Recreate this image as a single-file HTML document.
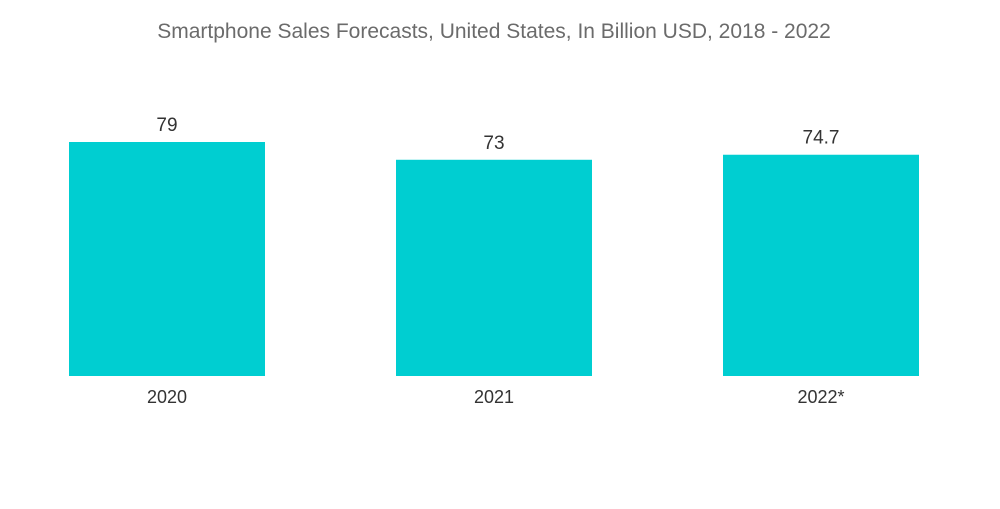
<!DOCTYPE html>
<html><head><meta charset="utf-8"><style>
html,body{margin:0;padding:0;background:#fff;}
svg text{font-family:"Liberation Sans",sans-serif;}
</style></head><body>
<svg id="chart" width="1000" height="504" viewBox="0 0 1000 504" xmlns="http://www.w3.org/2000/svg">
<text x="494" y="38" text-anchor="middle" font-size="21" fill="#6b6b6b">Smartphone Sales Forecasts, United States, In Billion USD, 2018 - 2022</text>
<g id="bars"></g>
</svg>
<script>
const categories = ["2020", "2021", "2022*"];
const values = [79, 73, 74.7];
const valueLabels = ["79", "73", "74.7"];

const baseY = 376, pxPerUnit = 2.962;
const firstX = 69, step = 327, barW = 196;
function xPos(i){ return firstX + i*step; }
function yPos(v){ return baseY - v*pxPerUnit; }
const ns = "http://www.w3.org/2000/svg";
const g = document.getElementById('bars');
categories.forEach((c,i)=>{
  const r = document.createElementNS(ns,'rect');
  r.setAttribute('x', xPos(i));
  r.setAttribute('y', yPos(values[i]));
  r.setAttribute('width', barW);
  r.setAttribute('height', baseY - yPos(values[i]));
  r.setAttribute('fill', '#00ced1');
  
  
  g.appendChild(r);
  const t = document.createElementNS(ns,'text');
  t.setAttribute('x', xPos(i)+barW/2);
  t.setAttribute('y', yPos(values[i]) - 11);
  t.setAttribute('text-anchor','middle');
  t.setAttribute('font-size','19');
  t.setAttribute('fill','#333');
  t.textContent = valueLabels[i];
  
  
  g.appendChild(t);
  const l = document.createElementNS(ns,'text');
  l.setAttribute('x', xPos(i)+barW/2);
  l.setAttribute('y', 403);
  l.setAttribute('text-anchor','middle');
  l.setAttribute('font-size','18');
  l.setAttribute('fill','#333');
  l.textContent = c;
  
  
  g.appendChild(l);
});
</script>
</body></html>
